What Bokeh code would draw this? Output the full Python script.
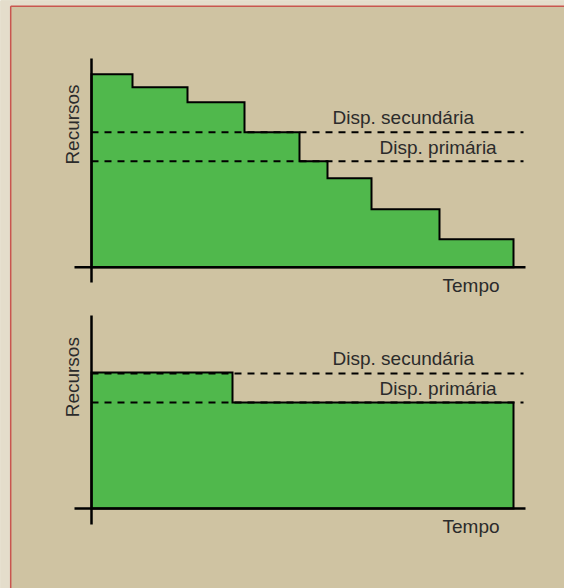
import math
from bokeh.plotting import figure
from bokeh.models import Range1d
from bokeh.core.properties import value
from bokeh.embed import file_html
from bokeh.resources import INLINE

# ---- data (time units / resource units) ----
top_edges = [0, 4.1, 9.6, 15.3, 20.8, 23.6, 28.0, 34.8, 42.2]
top_levels = [19.3, 18.0, 16.5, 13.5, 10.6, 8.9, 5.8, 2.8]
bottom_edges = [0, 14.1, 42.2]
bottom_levels = [13.6, 10.6]
secondary = 13.5
primary = 10.6
dash_end = 43.2
labels = ["Disp. secundária", "Disp. primária"]
label_x = [24.1, 28.8]
label_y = [15.0, 12.0]
y_label = "Recursos"
x_label = "Tempo"

TAN = "#cfc3a2"
GREEN = "#50b84c"
LIGHT = "#e4ddcb"
RED = "#c9564f"
INK = "#2b2b2b"
FONT = value("Liberation Sans")
FS = "19px"

X_LO, X_HI = -9.1, 47.3
TOP_LO, TOP_HI = -32.13, 26.67
BOT_LO, BOT_HI = -8.0, 50.8

p = figure(width=564, height=588, output_backend="svg", toolbar_location=None,
           x_range=Range1d(X_LO, X_HI), y_range=Range1d(TOP_LO, TOP_HI),
           min_border=0, min_border_left=0, min_border_right=0,
           min_border_top=0, min_border_bottom=0)
p.extra_y_ranges = {"bottom": Range1d(BOT_LO, BOT_HI)}
p.axis.visible = False
p.grid.visible = False
p.outline_line_color = None
p.background_fill_color = TAN
p.border_fill_color = TAN

# frame decoration: light margin and red border (left and top)
p.quad(left=X_LO, right=-8.12, bottom=TOP_LO, top=TOP_HI, fill_color=LIGHT, line_color=None)
p.quad(left=X_LO, right=X_HI, bottom=26.12, top=TOP_HI, fill_color=LIGHT, line_color=None)
p.segment(x0=-8.08, y0=TOP_LO, x1=-8.08, y1=26.1, line_color=RED, line_width=1.5)
p.segment(x0=-8.08, y0=26.1, x1=X_HI, y1=26.1, line_color=RED, line_width=1.5)


def step_polygon(edges, levels):
    xs, ys = [edges[0]], [0]
    for i, lv in enumerate(levels):
        xs += [edges[i], edges[i + 1]]
        ys += [lv, lv]
    xs.append(edges[-1])
    ys.append(0)
    return xs, ys


def draw_panel(edges, levels, ax_top, ax_bot, ylab_y, rng):
    kw = {} if rng is None else {"y_range_name": rng}
    xs, ys = step_polygon(edges, levels)
    p.patch(xs, ys, fill_color=GREEN, line_color="black", line_width=2, line_join="miter", **kw)
    for lv in (secondary, primary):
        p.line([0, dash_end], [lv, lv], line_color="black", line_width=2, line_dash="7 6", **kw)
    p.line([0, 0], [ax_bot, ax_top], line_color="black", line_width=2.5, **kw)
    p.line([-1.7, 43.4], [0, 0], line_color="black", line_width=2.5, **kw)
    p.text(x=label_x, y=label_y, text=labels, text_font=FONT, text_font_size=FS,
           text_color=INK, text_baseline="middle", text_align="left", **kw)
    p.text(x=[35.1], y=[-1.81], text=[x_label], text_font=FONT, text_font_size=FS,
           text_color=INK, text_baseline="middle", text_align="left", **kw)
    p.text(x=[-1.93], y=[ylab_y], text=[y_label], text_font=FONT, text_font_size=FS,
           text_color=INK, text_baseline="middle", text_align="center",
           angle=math.pi / 2, **kw)


draw_panel(top_edges, top_levels, 20.87, -1.53, 14.27, None)
draw_panel(bottom_edges, bottom_levels, 19.3, -1.6, 13.13, "bottom")

open("out.html", "w").write(file_html(p, INLINE))
